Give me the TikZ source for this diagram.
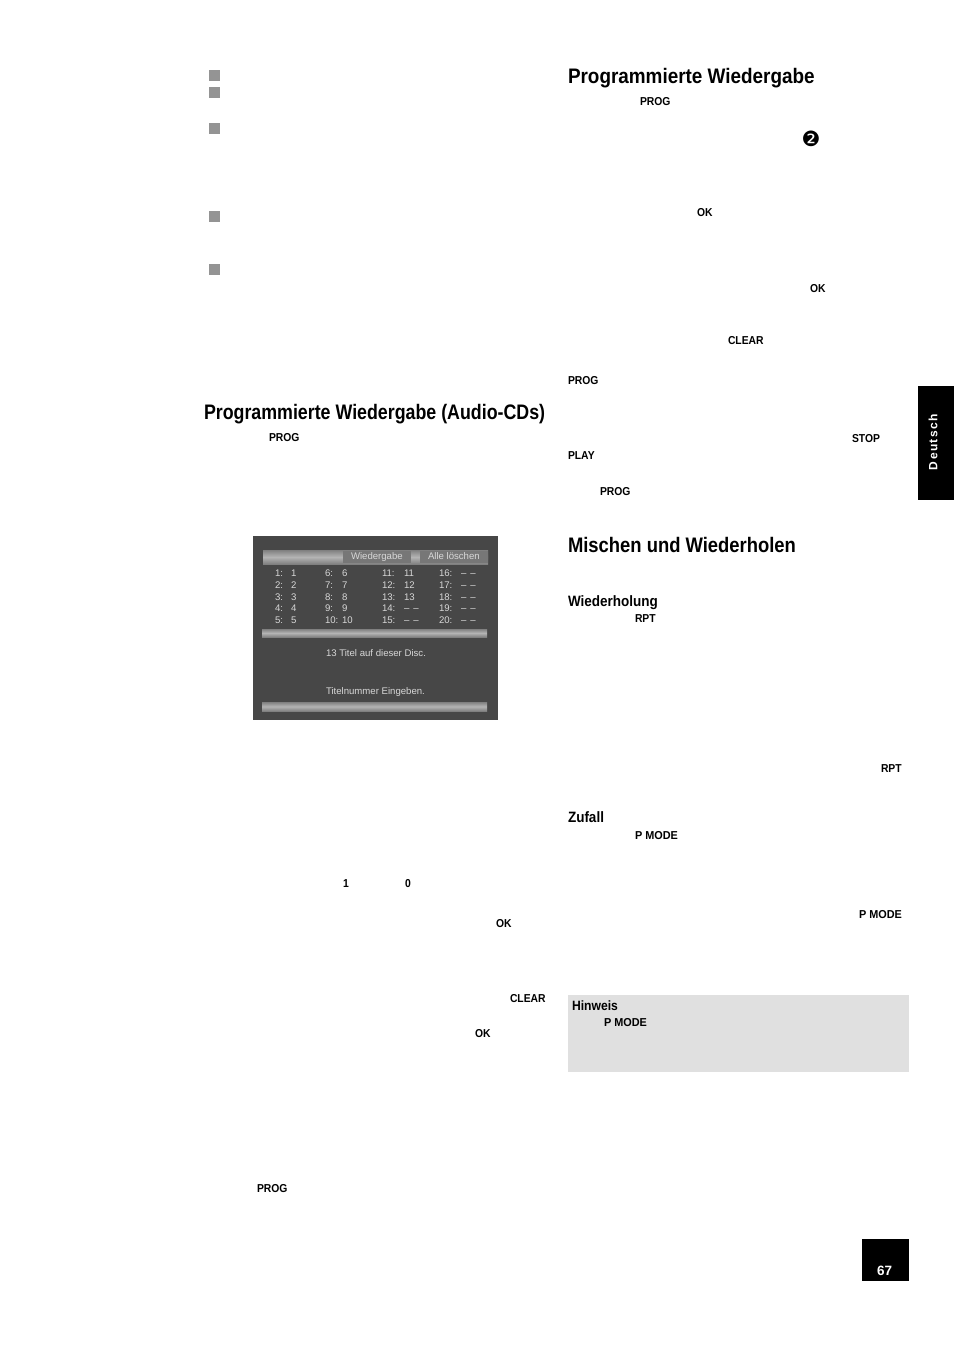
\documentclass[tikz,border=0pt]{standalone}
\usepackage{fontspec}
\setmainfont{Liberation Sans}
\newfontfamily\headfont[FakeStretch=0.9]{Liberation Sans Bold}
\newfontfamily\kwfont[FakeStretch=0.9]{Liberation Sans Bold}
\newfontfamily\dejavu{DejaVu Sans}
\definecolor{screen}{HTML}{474747}
\definecolor{scrtext}{HTML}{D8D8D8}
\definecolor{tabgray}{HTML}{777777}
\definecolor{bulletgray}{HTML}{949494}
\definecolor{notegray}{HTML}{E0E0E0}
\definecolor{baredge}{HTML}{808080}
\definecolor{barmid}{HTML}{B4B4B4}
\newcommand{\dd}{–\hspace{4pt}–}
\tikzset{
  base/.style={inner sep=0pt,outer sep=0pt,anchor=base west},
  head/.style={base,font=\headfont\fontsize{21}{21}\selectfont,text=black},
  sub/.style={base,font=\headfont\fontsize{15}{15}\selectfont,text=black},
  kw/.style={base,yshift=0.7pt,font=\kwfont\fontsize{11.5}{11.5}\selectfont,text=black},
  scr/.style={base,font=\fontsize{9.6}{9.6}\selectfont,text=scrtext},
  bullet/.style={fill=bulletgray,draw=none},
  barshade/.style={top color=baredge,bottom color=baredge,middle color=barmid,draw=none},
}
\begin{document}
\begin{tikzpicture}[x=1pt,y=-1pt]
\useasboundingbox (0,0) rectangle (954,1350);
\fill[white] (0,0) rectangle (954,1350);
% bullets
\foreach \yy in {70,87,123,211,264}{\fill[bullet] (209,\yy) rectangle (220,\yy+11);}
% headings
\node[head] (h1) at (568,83) {Programmierte Wiedergabe};
\node[head] (h2) at (204,419) {\scalebox{0.942}[1]{Programmierte Wiedergabe (Audio-CDs)}};
\node[head] (h3) at (568,552) {\scalebox{0.974}[1]{Mischen und Wiederholen}};
\node[sub] (s1) at (568,606) {Wiederholung};
\node[sub] (s2) at (568,822) {Zufall};
% keywords
\node[kw] (k1) at (640,106) {PROG};
\node[base,font=\dejavu\fontsize{21}{21}\selectfont] (k2) at (801.5,146) {❷};
\node[kw] (k3) at (697,217) {OK};
\node[kw] (k4) at (810,293) {OK};
\node[kw] (k5) at (728,345) {CLEAR};
\node[kw] (k6) at (568,385) {PROG};
\node[kw] (k7) at (852,443) {STOP};
\node[kw] (k8) at (568,460) {PLAY};
\node[kw] (k9) at (600,496) {PROG};
\node[kw] (k10) at (635,623) {RPT};
\node[kw] (k11) at (881,773) {RPT};
\node[kw] (k12) at (635,840) {\scalebox{1.05}[1]{P MODE}};
\node[kw] (k13) at (859,919) {\scalebox{1.05}[1]{P MODE}};
\node[kw] (k14) at (269,442) {PROG};
\node[kw] (k15) at (343,888) {1};
\node[kw] (k16) at (405,888) {0};
\node[kw] (k17) at (496,928) {OK};
\node[kw] (k18) at (510,1003) {CLEAR};
\node[kw] (k19) at (475,1038) {OK};
\node[kw] (k20) at (257,1193) {PROG};
% note box
\fill[notegray] (568,995) rectangle (909,1072);
\node[base,font=\headfont\fontsize{13.5}{13.5}\selectfont] (n1) at (572,1010) {Hinweis};
\node[kw] (n2) at (604,1027) {\scalebox{1.05}[1]{P MODE}};
% language tab
\fill[black] (918,386) rectangle (954,500);
\node[font=\fontsize{12}{12}\selectfont\bfseries,text=white,rotate=90,inner sep=0pt,anchor=center] (tab) at (933,442) {\addfontfeatures{LetterSpace=12}Deutsch};
% page number
\fill[black] (862,1239) rectangle (909,1281);
\node[base,font=\bfseries\fontsize{13.5}{13.5}\selectfont,text=white] (pg) at (877,1275) {67};
% screen
\fill[screen] (253,536) rectangle (498,720);
\shade[barshade] (263,550) rectangle (488,564);
\fill[tabgray] (343,551) rectangle (411,563);
\fill[tabgray] (420,551) rectangle (488,563);
\shade[barshade] (262,629) rectangle (487,637);
\shade[barshade] (262,702) rectangle (487,711);
\node[scr] (t0) at (351,559) {Wiedergabe};
\node[scr] (t00) at (428,559) {Alle löschen};
\foreach \n/\x/\y/\t in {
 a1/275/576/{1:},a2/275/588/{2:},a3/275/600/{3:},a4/275/611/{4:},a5/275/623/{5:},
 b1/291/576/1,b2/291/588/2,b3/291/600/3,b4/291/611/4,b5/291/623/5,
 c1/325/576/{6:},c2/325/588/{7:},c3/325/600/{8:},c4/325/611/{9:},c5/325/623/{10:},
 d1/342/576/6,d2/342/588/7,d3/342/600/8,d4/342/611/9,d5/342/623/10,
 e1/382/576/{11:},e2/382/588/{12:},e3/382/600/{13:},e4/382/611/{14:},e5/382/623/{15:},
 f1/404/576/11,f2/404/588/12,f3/404/600/13,f4/404/611/{\dd},f5/404/623/{\dd},
 g1/439/576/{16:},g2/439/588/{17:},g3/439/600/{18:},g4/439/611/{19:},g5/439/623/{20:},
 h1x/461/576/{\dd},h2x/461/588/{\dd},h3x/461/600/{\dd},h4x/461/611/{\dd},h5x/461/623/{\dd}}{
  \node[scr] (\n) at (\x,\y) {\t};
}
\node[scr] (m1) at (326,656) {13 Titel auf dieser Disc.};
\node[scr] (m2) at (326,694) {Titelnummer Eingeben.};
\end{tikzpicture}
\end{document}
